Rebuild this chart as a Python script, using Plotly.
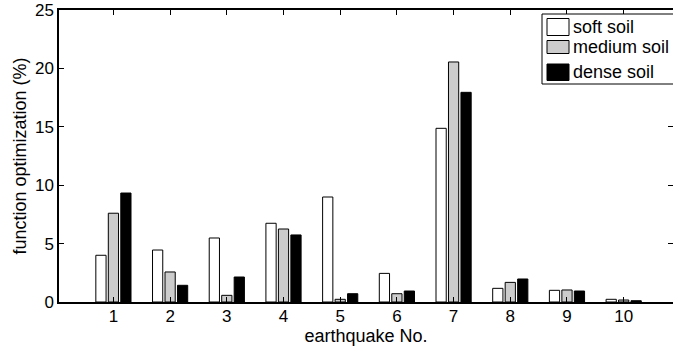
import plotly.graph_objects as go

quakes = [1, 2, 3, 4, 5, 6, 7, 8, 9, 10]
tick_labels = ["1", "2", "3", "4", "5", "6", "7", "8", "9", "10"]
soft_soil = [4.0, 4.45, 5.48, 6.74, 8.99, 2.45, 14.87, 1.17, 1.0, 0.23]
medium_soil = [7.6, 2.57, 0.57, 6.25, 0.23, 0.71, 20.55, 1.68, 1.03, 0.17]
dense_soil = [9.33, 1.43, 2.14, 5.74, 0.71, 0.94, 17.95, 1.97, 0.94, 0.11]
series_names = ["soft soil", "medium soil", "dense soil"]
series_colors = ["#ffffff", "#cccccc", "#000000"]

FONT = "Liberation Sans, Arial, Helvetica, sans-serif"
W, H = 673, 346
ML, MR, MT, MB = 59, 0, 10, 44
PW, PH = W - ML - MR, H - MT - MB


def px_x(x):
    return (x - ML) / PW


def px_y(y):
    return 1 - (y - MT) / PH


fig = go.Figure()
for name, vals, col in zip(series_names, [soft_soil, medium_soil, dense_soil], series_colors):
    fig.add_trace(go.Bar(x=quakes, y=vals, name=name,
                         marker=dict(color=col, line=dict(color="#000000", width=1))))

# legend box (drawn manually so it can run off the right edge like the reference)
shapes = [dict(type="rect", xref="paper", yref="paper",
               x0=px_x(542), x1=px_x(690), y0=px_y(84), y1=px_y(14),
               line=dict(color="#000000", width=1), fillcolor="white", layer="above")]
annotations = []
rows = [(18.5, 35.5), (40.5, 53.5), (64, 80.5)]
for (top, bot), name, col in zip(rows, series_names, series_colors):
    shapes.append(dict(type="rect", xref="paper", yref="paper",
                       x0=px_x(547), x1=px_x(569), y0=px_y(bot), y1=px_y(top),
                       line=dict(color="#000000", width=1), fillcolor=col, layer="above"))
    annotations.append(dict(xref="paper", yref="paper", x=px_x(571), y=px_y((top + bot) / 2),
                            xanchor="left", yanchor="middle", text=name, showarrow=False,
                            font=dict(family=FONT, size=18, color="#000000")))

fig.update_layout(
    width=W, height=H,
    margin=dict(l=ML, r=MR, t=MT, b=MB, autoexpand=False),
    paper_bgcolor="white", plot_bgcolor="white",
    barmode="group", bargap=0.34, bargroupgap=0.18,
    font=dict(family=FONT, size=17, color="#000000"),
    showlegend=False,
    shapes=shapes, annotations=annotations,
)
fig.update_xaxes(
    range=[0.04, 10.87], tickmode="array", tickvals=quakes, ticktext=tick_labels,
    showline=True, linecolor="#000000", linewidth=1.5, mirror="ticks",
    ticks="inside", ticklen=5, tickcolor="#000000", showgrid=False, zeroline=False,
    ticklabelstandoff=-2,
    title=dict(text="earthquake No.", font=dict(family=FONT, size=18), standoff=3),
    tickfont=dict(size=17), automargin=False,
)
fig.update_yaxes(
    range=[0, 25], tickvals=[0, 5, 10, 15, 20, 25],
    showline=True, linecolor="#000000", linewidth=1.5, mirror="ticks",
    ticks="inside", ticklen=5, tickcolor="#000000", showgrid=False, zeroline=False,
    title=dict(text="function optimization (%)", font=dict(family=FONT, size=18), standoff=4),
    tickfont=dict(size=17), automargin=False,
)

fig.write_html("out.html")
